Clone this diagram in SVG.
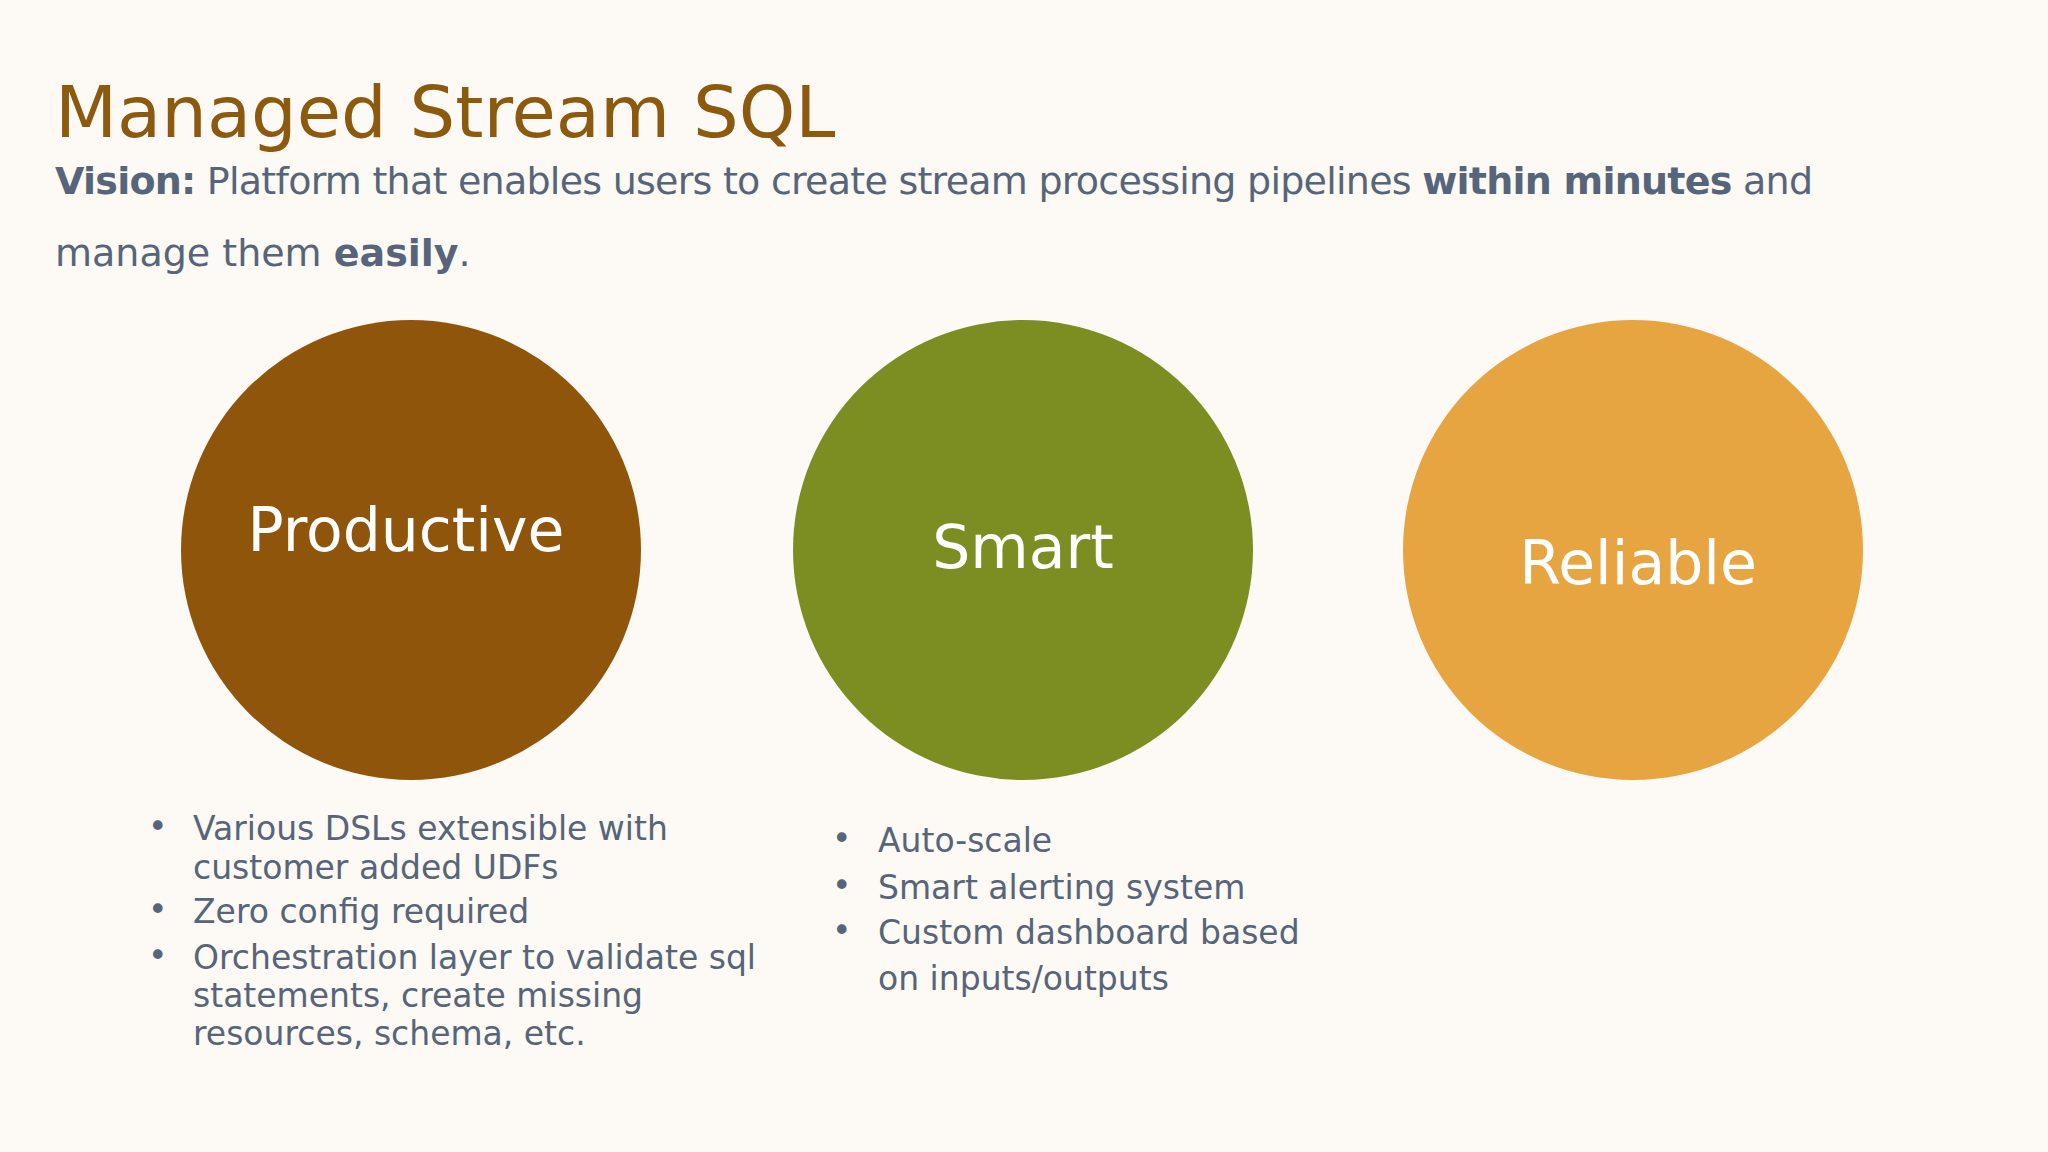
<svg xmlns="http://www.w3.org/2000/svg" width="2048" height="1152" viewBox="0 0 2048 1152">
<style>
.t{font-family:"DejaVu Sans","Liberation Sans",sans-serif;fill:#56657a}
.c{font-family:"DejaVu Sans","Liberation Sans",sans-serif;fill:#ffffff;font-size:60px;text-anchor:middle}
.b{font-size:33px}
</style>
<rect width="2048" height="1152" fill="#fdf9f4"/>
<text x="55" y="137" font-family="DejaVu Sans,sans-serif" font-size="72" fill="#8c5a0e">Managed Stream SQL</text>
<text class="t" x="55" y="194" font-size="38" textLength="1758"><tspan font-weight="bold">Vision:</tspan> Platform that enables users to create stream processing pipelines <tspan font-weight="bold">within minutes</tspan> and</text>
<text class="t" x="55" y="266" font-size="38">manage them <tspan font-weight="bold">easily</tspan>.</text>
<g id="productive"><circle cx="411" cy="550" r="230" fill="#8f560b"/><text class="c" x="406" y="551">Productive</text></g>
<g id="smart"><circle cx="1023" cy="550" r="230" fill="#7c8e22"/><text class="c" x="1023" y="568">Smart</text></g>
<g id="reliable"><circle cx="1633" cy="550" r="230" fill="#e7a541"/><text class="c" x="1638" y="584">Reliable</text></g>
<g id="connectors"/>
<g class="t b">
<text x="148" y="838">•</text><text x="193" y="840">Various DSLs extensible with</text>
<text x="193" y="879">customer added UDFs</text>
<text x="148" y="921">•</text><text x="193" y="923">Zero config required</text>
<text x="148" y="967">•</text><text x="193" y="969">Orchestration layer to validate sql</text>
<text x="193" y="1007">statements, create missing</text>
<text x="193" y="1045">resources, schema, etc.</text>
<text x="832" y="850">•</text><text x="878" y="852">Auto-scale</text>
<text x="832" y="897">•</text><text x="878" y="899">Smart alerting system</text>
<text x="832" y="942">•</text><text x="878" y="944">Custom dashboard based</text>
<text x="878" y="990">on inputs/outputs</text>
</g>
</svg>
